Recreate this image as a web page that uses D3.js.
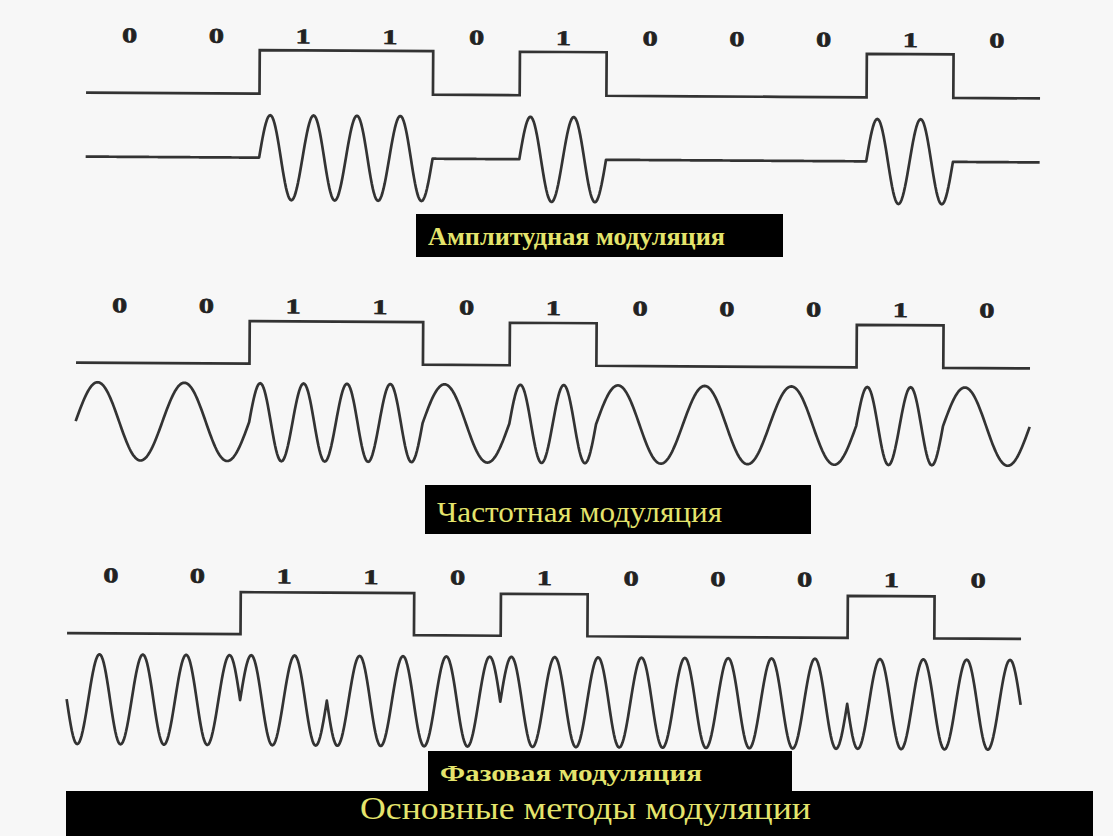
<!DOCTYPE html>
<html>
<head>
<meta charset="utf-8">
<script src="https://cdn.jsdelivr.net/npm/d3@7/dist/d3.min.js"></script>
<style>
  body { margin: 0; background: #f7f7f7; }
  svg { display: block; }
</style>
</head>
<body>
<svg id="chart"></svg>
<script>
// data
var bits = [0, 0, 1, 1, 0, 1, 0, 0, 0, 1, 0];
var bitLabels = ["0", "0", "1", "1", "0", "1", "0", "0", "0", "1", "0"];
var amOn = [0, 0, 1, 1, 0, 1, 0, 0, 0, 1, 0];        // carrier on / off
var amCycles = 2;                                     // cycles per bit when on
var fmCycles = [1, 1, 2, 2, 1, 2, 1, 1, 1, 2, 1];     // cycles per bit
var pmPhase = [1, 1, 0, 1, 1, 0, 0, 0, 0, 1, 1];      // 1 = carrier inverted
var pmCycles = 2;
var captions = ["Амплитудная модуляция", "Частотная модуляция", "Фазовая модуляция"];
var title = "Основные методы модуляции";

var W = 1113, H = 836;
var svg = d3.select('#chart').attr('width', W).attr('height', H);

svg.append('rect').attr('width', W).attr('height', H).attr('fill', '#f7f7f7');

var panels = [
	{ x0: 86, x1: 1040, labelY: 45, low: 95.5, high: 52, mid: 159.5, amp: 42.5,
		wave: function(i, t) { return amOn[i] * Math.sin(2 * Math.PI * amCycles * t); } },
	{ x0: 76, x1: 1030, labelY: 315, low: 365.5, high: 323, mid: 424, amp: 39,
		wave: function(i, t) { return Math.sin(2 * Math.PI * fmCycles[i] * t); } },
	{ x0: 67, x1: 1021, labelY: 585, low: 636, high: 594, mid: 702, amp: 45,
		wave: function(i, t) { return (pmPhase[i] ? -1 : 1) * Math.sin(2 * Math.PI * pmCycles * t); } }
];

var steps = 80;

panels.forEach(function(p) {
	var xScale = d3.scaleLinear().domain([0, bits.length]).range([p.x0, p.x1]);
	var yBit = d3.scaleLinear().domain([0, 1]).range([p.low, p.high]);
	var yWave = d3.scaleLinear().domain([-1, 1]).range([p.mid + p.amp, p.mid - p.amp]);

	var cx = (p.x0 + p.x1) / 2,
		cy = (p.labelY + p.mid) / 2;

	var g = svg.append('g')
		.attr('transform', 'rotate(0.35,' + cx + ',' + cy + ')');

	// bit labels
	g.selectAll('text.bit')
		.data(bitLabels)
		.enter()
		.append('text')
		.attr('class', 'bit')
		.attr('transform', function(d, i) {
			return 'translate(' + xScale(i + 0.5) + ',' + p.labelY + ') scale(1.45,1)';
		})
		.attr('text-anchor', 'middle')
		.attr('font-family', 'Liberation Serif, serif')
		.attr('font-weight', 'bold')
		.attr('font-size', 21)
		.attr('fill', '#222')
		.attr('stroke', '#222')
		.attr('stroke-width', 0.6)
		.text(function(d) { return d; });

	// digital signal
	var stepPts = bits.map(function(b, i) { return [i, b]; });
	stepPts.push([bits.length, bits[bits.length - 1]]);

	var stepLine = d3.line()
		.x(function(d) { return xScale(d[0]); })
		.y(function(d) { return yBit(d[1]); })
		.curve(d3.curveStepAfter);

	g.append('path')
		.datum(stepPts)
		.attr('d', stepLine)
		.attr('fill', 'none')
		.attr('stroke', '#333')
		.attr('stroke-width', 2.7);

	// modulated carrier
	var wavePts = [];
	for (var i = 0; i < bits.length; i++) {
		for (var s = 0; s <= steps; s++) {
			var t = s / steps;
			wavePts.push([i + t, p.wave(i, t)]);
		}
	}

	var waveLine = d3.line()
		.x(function(d) { return xScale(d[0]); })
		.y(function(d) { return yWave(d[1]); });

	g.append('path')
		.datum(wavePts)
		.attr('d', waveLine)
		.attr('fill', 'none')
		.attr('stroke', '#333')
		.attr('stroke-width', 2.7)
		.attr('stroke-linejoin', 'round');
});

// caption boxes
var boxes = [
	{ x: 416, y: 214, w: 367, h: 43, tx: 428, ty: 245, tw: 297, size: 26, weight: 'bold' },
	{ x: 425, y: 485, w: 386, h: 49, tx: 437, ty: 522, tw: 285, size: 29, weight: 'normal' },
	{ x: 428, y: 751, w: 364, h: 45, tx: 440, ty: 781, tw: 262, size: 24, weight: 'bold' }
];

boxes.forEach(function(b, i) {
	svg.append('rect')
		.attr('x', b.x).attr('y', b.y)
		.attr('width', b.w).attr('height', b.h)
		.attr('fill', '#000');
	svg.append('text')
		.attr('x', b.tx).attr('y', b.ty)
		.attr('font-family', 'Liberation Serif, serif')
		.attr('font-weight', b.weight)
		.attr('font-size', b.size)
		.attr('fill', '#e4e46c')
		.attr('textLength', b.tw)
		.attr('lengthAdjust', 'spacingAndGlyphs')
		.text(captions[i]);
});

// title bar
svg.append('rect')
	.attr('x', 66).attr('y', 791)
	.attr('width', 1027).attr('height', 50)
	.attr('fill', '#000');

svg.append('text')
	.attr('x', 360).attr('y', 819)
	.attr('font-family', 'Liberation Serif, serif')
	.attr('font-size', 31)
	.attr('fill', '#e4e46c')
	.attr('textLength', 451)
	.attr('lengthAdjust', 'spacingAndGlyphs')
	.text(title);
</script>
</body>
</html>
